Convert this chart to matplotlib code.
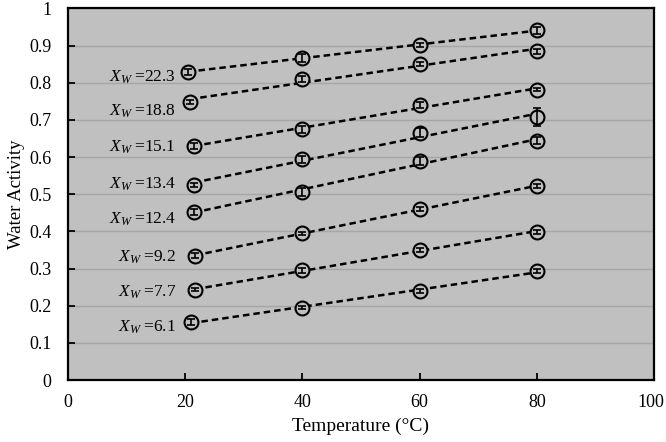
import numpy as np
import matplotlib
matplotlib.use('Agg')
import matplotlib.pyplot as plt
import matplotlib.transforms as mtransforms

plt.rcParams['font.family'] = ['Liberation Serif', 'DejaVu Serif']
plt.rcParams['mathtext.fontset'] = 'custom'
plt.rcParams['mathtext.rm'] = 'Liberation Serif'
plt.rcParams['mathtext.it'] = 'Liberation Serif:italic'

# --- data ---
xw_labels = ['22.3', '18.8', '15.1', '13.4', '12.4', '9.2', '7.7', '6.1']

temp = [
    [20.5, 40, 60, 80],
    [20.8, 40, 60, 80],
    [21.5, 40, 60, 80],
    [21.5, 40, 60, 80],
    [21.5, 40, 60, 80],
    [21.7, 40, 60, 80],
    [21.7, 40, 60, 80],
    [21.0, 40, 60, 80],
]
aw = [
    [0.830, 0.866, 0.902, 0.941],
    [0.748, 0.809, 0.851, 0.885],
    [0.630, 0.675, 0.740, 0.781],
    [0.525, 0.594, 0.665, 0.708],
    [0.452, 0.507, 0.590, 0.644],
    [0.335, 0.395, 0.460, 0.522],
    [0.243, 0.295, 0.350, 0.399],
    [0.156, 0.195, 0.240, 0.293],
]
aw_err = [
    [0.008, 0.010, 0.006, 0.009],
    [0.006, 0.008, 0.006, 0.007],
    [0.008, 0.009, 0.008, 0.004],
    [0.005, 0.010, 0.012, 0.025],
    [0.008, 0.011, 0.010, 0.010],
    [0.006, 0.004, 0.006, 0.006],
    [0.004, 0.006, 0.005, 0.005],
    [0.008, 0.005, 0.006, 0.006],
]
# label anchor (right edge) and vertical centre for each X_W text
label_x = 18.4
label_y = [0.815, 0.722, 0.625, 0.527, 0.433, 0.331, 0.237, 0.143]

bg = '#c0c0c0'

fig = plt.figure(figsize=(6.66, 4.42), dpi=100)
ax = fig.add_axes([0.102, 0.140, 0.880, 0.841])
ax.set_facecolor(bg)

for i in range(len(xw_labels)):
    x = np.array(temp[i])
    y = np.array(aw[i])
    k, b = np.polyfit(x, y, 1)
    xl = np.array([x[0], x[-1]])
    ax.plot(xl, k * xl + b, color='black', lw=1.8, dashes=(2.6, 1.6), zorder=2)
    ax.plot(x, y, 'o', ms=10, mfc=bg, mec='black', mew=1.5, zorder=3)
    ax.errorbar(x, y, yerr=aw_err[i], fmt='none', ecolor='black',
                elinewidth=1.2, capsize=3, capthick=1.2, zorder=4)
    ax.text(label_x, label_y[i], r'$X_W$' + '\u2009=' + xw_labels[i],
            ha='right', va='center', fontsize=12.5)

ax.set_xlim(0, 100)
ax.set_ylim(0, 1)
ax.set_xticks(np.arange(0, 101, 20))
ax.set_yticks(np.arange(0, 1.01, 0.1))
ax.set_yticklabels(['0'] + [f'{v:.1f}' for v in np.arange(0.1, 0.95, 0.1)] + ['1'])
ax.grid(axis='y', color='#a6a6a6', lw=1.0)
ax.set_axisbelow(True)
ax.tick_params(direction='in', length=5, width=1.3, labelsize=13)
ax.tick_params(axis='x', top=False, pad=10)
ax.tick_params(axis='y', right=False, pad=12)
for s in ax.spines.values():
    s.set_linewidth(1.6)

# keep the "100" label inside the canvas
last = ax.get_xticklabels()[-1]
last.set_transform(last.get_transform() +
                   mtransforms.ScaledTranslation(-3 / 100, 0, fig.dpi_scale_trans))

ax.set_xlabel('Temperature (\u00b0C)', fontsize=14, labelpad=5)
ax.set_ylabel('Water Activity', fontsize=13.5, labelpad=3)

fig.savefig('out.png', dpi=100)
